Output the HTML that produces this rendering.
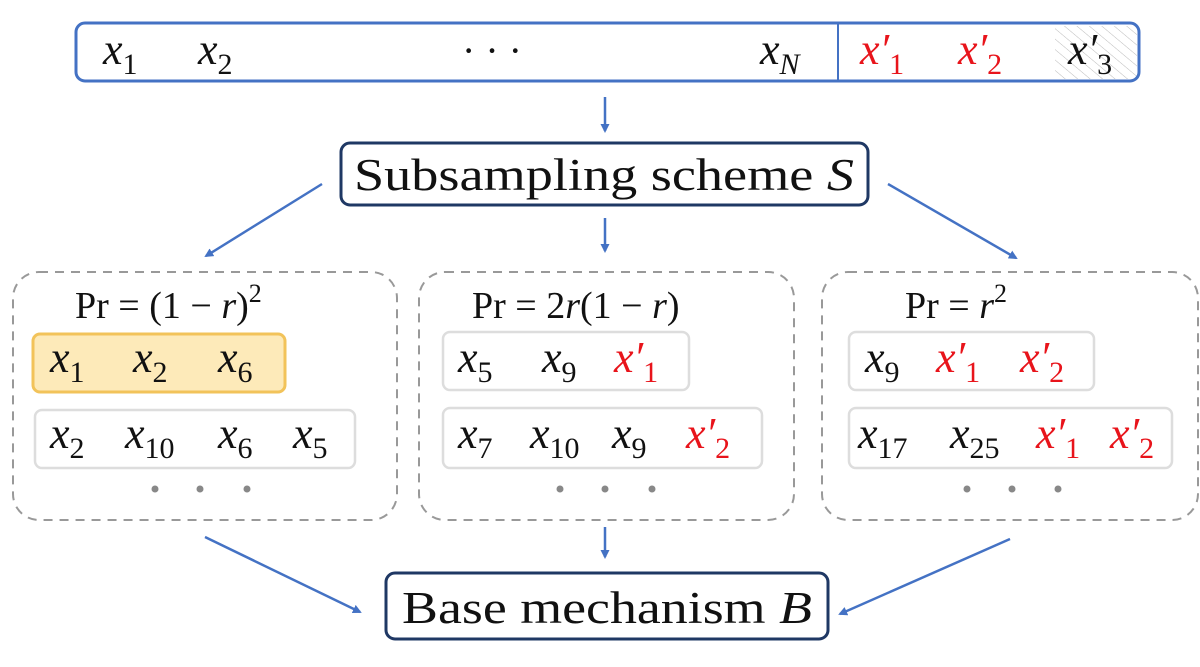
<!DOCTYPE html>
<html><head><meta charset="utf-8"><style>
html,body{margin:0;padding:0;background:#fff;width:1200px;height:667px;overflow:hidden}
svg{display:block}
text{font-family:"Liberation Serif",serif;fill:#111}
.v{font-style:italic;font-size:44px}
.s{font-size:30px}
.r{fill:#e8141b}
</style></head><body>
<svg width="1200" height="667" viewBox="0 0 1200 667">
<defs>
<marker id="ah" markerWidth="9" markerHeight="9" refX="7" refY="4.5" orient="auto" markerUnits="userSpaceOnUse"><path d="M0,0 L9,4.5 L0,9 z" fill="#4472c4"/></marker>
<pattern id="hatch" width="8" height="8" patternUnits="userSpaceOnUse" patternTransform="rotate(-50)"><line x1="0" y1="0" x2="0" y2="8" stroke="#bbb" stroke-width="1"/></pattern>
</defs>

<g>
<rect x="1055" y="26" width="82" height="53" fill="url(#hatch)"/>
<rect x="76" y="23" width="1063" height="58" rx="9" fill="none" stroke="#4472c4" stroke-width="3"/>
<line x1="838" y1="24" x2="838" y2="80" stroke="#4472c4" stroke-width="2"/>
<text x="103" y="64"><tspan class="v">x</tspan><tspan class="s" dy="10">1</tspan></text>
<text x="198" y="64"><tspan class="v">x</tspan><tspan class="s" dy="10">2</tspan></text>
<text x="462" y="64" font-size="40">· · ·</text>
<text x="760" y="64"><tspan class="v">x</tspan><tspan class="s" dy="10" font-style="italic">N</tspan></text>
<text x="860" y="64"><tspan class="v r">x′</tspan><tspan class="s r" dy="10">1</tspan></text>
<text x="958" y="64"><tspan class="v r">x′</tspan><tspan class="s r" dy="10">2</tspan></text>
<text x="1068" y="64"><tspan class="v">x′</tspan><tspan class="s" dy="10">3</tspan></text>
</g>

<line x1="605" y1="97" x2="605" y2="131" stroke="#4472c4" stroke-width="2.5" marker-end="url(#ah)"/>

<g>
<rect x="341" y="143" width="527" height="62" rx="9" fill="#fff" stroke="#1f3864" stroke-width="3"/>
<text x="604" y="190" font-size="45" text-anchor="middle" textLength="500" lengthAdjust="spacingAndGlyphs">Subsampling scheme <tspan font-style="italic">S</tspan></text>
</g>

<line x1="322" y1="184" x2="206" y2="256" stroke="#4472c4" stroke-width="2.5" marker-end="url(#ah)"/>
<line x1="605" y1="218" x2="605" y2="251" stroke="#4472c4" stroke-width="2.5" marker-end="url(#ah)"/>
<line x1="888" y1="184" x2="1016" y2="258" stroke="#4472c4" stroke-width="2.5" marker-end="url(#ah)"/>

<g>
<rect x="13" y="272" width="384" height="248" rx="26" fill="none" stroke="#999" stroke-width="2" stroke-dasharray="9 7"/>
<text x="75" y="318" font-size="38">Pr =  (1  − <tspan font-style="italic">r</tspan>)<tspan font-size="26" dy="-16">2</tspan></text>
<rect x="33" y="334" width="252" height="58" rx="7" fill="#fdeab9" stroke="#f2c35a" stroke-width="3"/>
<text x="50" y="372"><tspan class="v">x</tspan><tspan class="s" dy="10">1</tspan></text>
<text x="133" y="372"><tspan class="v">x</tspan><tspan class="s" dy="10">2</tspan></text>
<text x="218" y="372"><tspan class="v">x</tspan><tspan class="s" dy="10">6</tspan></text>
<rect x="35" y="410" width="320" height="58" rx="7" fill="#fff" stroke="#ddd" stroke-width="2.5"/>
<text x="50" y="448"><tspan class="v">x</tspan><tspan class="s" dy="10">2</tspan></text>
<text x="125" y="448"><tspan class="v">x</tspan><tspan class="s" dy="10">10</tspan></text>
<text x="218" y="448"><tspan class="v">x</tspan><tspan class="s" dy="10">6</tspan></text>
<text x="293" y="448"><tspan class="v">x</tspan><tspan class="s" dy="10">5</tspan></text>
<circle cx="155" cy="489" r="3.5" fill="#888"/><circle cx="200" cy="489" r="3.5" fill="#888"/><circle cx="247" cy="489" r="3.5" fill="#888"/>
</g>

<g>
<rect x="419" y="272" width="375" height="248" rx="26" fill="none" stroke="#999" stroke-width="2" stroke-dasharray="9 7"/>
<text x="472" y="318" font-size="38">Pr = 2<tspan font-style="italic">r</tspan>(1  − <tspan font-style="italic">r</tspan>)</text>
<rect x="443" y="332" width="246" height="58" rx="7" fill="#fff" stroke="#ddd" stroke-width="2.5"/>
<text x="458" y="372"><tspan class="v">x</tspan><tspan class="s" dy="10">5</tspan></text>
<text x="542" y="372"><tspan class="v">x</tspan><tspan class="s" dy="10">9</tspan></text>
<text x="614" y="372"><tspan class="v r">x′</tspan><tspan class="s r" dy="10">1</tspan></text>
<rect x="443" y="408" width="319" height="60" rx="7" fill="#fff" stroke="#ddd" stroke-width="2.5"/>
<text x="458" y="448"><tspan class="v">x</tspan><tspan class="s" dy="10">7</tspan></text>
<text x="530" y="448"><tspan class="v">x</tspan><tspan class="s" dy="10">10</tspan></text>
<text x="612" y="448"><tspan class="v">x</tspan><tspan class="s" dy="10">9</tspan></text>
<text x="686" y="448"><tspan class="v r">x′</tspan><tspan class="s r" dy="10">2</tspan></text>
<circle cx="560" cy="489" r="3.5" fill="#888"/><circle cx="605" cy="489" r="3.5" fill="#888"/><circle cx="652" cy="489" r="3.5" fill="#888"/>
</g>

<g>
<rect x="822" y="272" width="376" height="248" rx="26" fill="none" stroke="#999" stroke-width="2" stroke-dasharray="9 7"/>
<text x="905" y="318" font-size="38">Pr =  <tspan font-style="italic">r</tspan><tspan font-size="26" dy="-16">2</tspan></text>
<rect x="849" y="332" width="245" height="58" rx="7" fill="#fff" stroke="#ddd" stroke-width="2.5"/>
<text x="865" y="372"><tspan class="v">x</tspan><tspan class="s" dy="10">9</tspan></text>
<text x="936" y="372"><tspan class="v r">x′</tspan><tspan class="s r" dy="10">1</tspan></text>
<text x="1020" y="372"><tspan class="v r">x′</tspan><tspan class="s r" dy="10">2</tspan></text>
<rect x="849" y="408" width="323" height="60" rx="7" fill="#fff" stroke="#ddd" stroke-width="2.5"/>
<text x="858" y="448"><tspan class="v">x</tspan><tspan class="s" dy="10">17</tspan></text>
<text x="950" y="448"><tspan class="v">x</tspan><tspan class="s" dy="10">25</tspan></text>
<text x="1036" y="448"><tspan class="v r">x′</tspan><tspan class="s r" dy="10">1</tspan></text>
<text x="1110" y="448"><tspan class="v r">x′</tspan><tspan class="s r" dy="10">2</tspan></text>
<circle cx="967" cy="489" r="3.5" fill="#888"/><circle cx="1012" cy="489" r="3.5" fill="#888"/><circle cx="1058" cy="489" r="3.5" fill="#888"/>
</g>

<line x1="205" y1="537" x2="360" y2="612" stroke="#4472c4" stroke-width="2.5" marker-end="url(#ah)"/>
<line x1="605" y1="527" x2="605" y2="557" stroke="#4472c4" stroke-width="2.5" marker-end="url(#ah)"/>
<line x1="1010" y1="539" x2="840" y2="614" stroke="#4472c4" stroke-width="2.5" marker-end="url(#ah)"/>

<g>
<rect x="386" y="573" width="442" height="66" rx="9" fill="#fff" stroke="#1f3864" stroke-width="3"/>
<text x="607" y="623" font-size="45" text-anchor="middle" textLength="410" lengthAdjust="spacingAndGlyphs">Base mechanism <tspan font-style="italic">B</tspan></text>
</g>
</svg>
</body></html>
